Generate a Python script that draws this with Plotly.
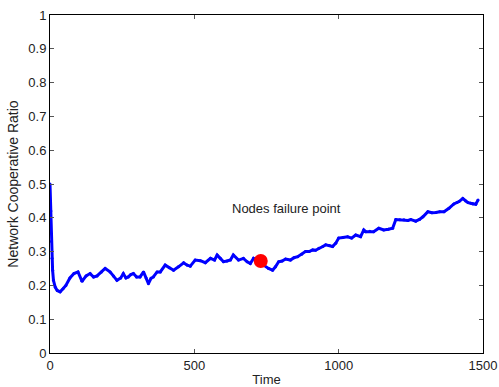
import plotly.graph_objects as go

time = [0, 3, 5, 7, 9, 12, 18, 25, 35, 45, 55, 69, 83, 97, 111, 125, 139, 151, 163, 178,
        191, 208, 220, 232, 245, 254, 263, 271, 280, 289, 300, 312, 324, 333, 341, 350, 358,
        371, 382, 399, 413, 428, 445, 463, 475, 486, 503, 521, 538, 556, 570, 579, 590, 601,
        613, 625, 635, 653, 670, 683, 694, 705, 715, 725, 740, 757, 771, 781, 792, 804, 816,
        833, 845, 858, 872, 885, 898, 910, 920, 931, 945, 955, 968, 979, 990, 1000, 1015,
        1031, 1045, 1059, 1076, 1087, 1094, 1108, 1121, 1139, 1156, 1172, 1187, 1198, 1212,
        1226, 1240, 1250, 1267, 1280, 1292, 1309, 1323, 1337, 1350, 1365, 1382, 1399, 1410,
        1417, 1430, 1440, 1448, 1458, 1465, 1475, 1483]
ratio = [0.50, 0.42, 0.33, 0.28, 0.245, 0.215, 0.195, 0.185, 0.181, 0.19, 0.20, 0.222, 0.235,
         0.24, 0.212, 0.228, 0.235, 0.225, 0.228, 0.24, 0.25, 0.24, 0.228, 0.215, 0.222, 0.235,
         0.222, 0.225, 0.232, 0.235, 0.225, 0.225, 0.24, 0.222, 0.205, 0.221, 0.225, 0.24, 0.24,
         0.26, 0.252, 0.245, 0.255, 0.267, 0.26, 0.257, 0.275, 0.273, 0.267, 0.28, 0.275, 0.29,
         0.28, 0.27, 0.272, 0.275, 0.29, 0.275, 0.28, 0.27, 0.265, 0.28, 0.275, 0.27, 0.26, 0.25,
         0.245, 0.255, 0.27, 0.272, 0.278, 0.275, 0.282, 0.285, 0.292, 0.30, 0.30, 0.305, 0.304,
         0.31, 0.315, 0.32, 0.318, 0.315, 0.325, 0.34, 0.342, 0.344, 0.34, 0.349, 0.344, 0.364,
         0.359, 0.36, 0.359, 0.369, 0.364, 0.366, 0.369, 0.395, 0.394, 0.394, 0.392, 0.395, 0.39,
         0.395, 0.403, 0.418, 0.415, 0.416, 0.418, 0.418, 0.428, 0.441, 0.445, 0.448, 0.457,
         0.45, 0.445, 0.443, 0.441, 0.44, 0.453]

failure_time = [730]
failure_ratio = [0.272]
annotation_text = "Nodes failure point"
annotation_pos = (818, 0.429)

x_ticks = [0, 500, 1000, 1500]
y_ticks = [0, 0.1, 0.2, 0.3, 0.4, 0.5, 0.6, 0.7, 0.8, 0.9, 1]
y_tick_labels = ["0", "0.1", "0.2", "0.3", "0.4", "0.5", "0.6", "0.7", "0.8", "0.9", "1"]

FONT = "Liberation Sans, Arial, Helvetica"

fig = go.Figure()
fig.add_trace(go.Scatter(x=time, y=ratio, mode="lines+markers",
                         line=dict(color="#0000ff", width=3),
                         marker=dict(color="#0000ff", size=3),
                         showlegend=False, hoverinfo="skip"))
fig.add_trace(go.Scatter(x=failure_time, y=failure_ratio, mode="markers",
                         marker=dict(color="#ff0000", size=14),
                         showlegend=False, hoverinfo="skip"))
fig.add_annotation(x=annotation_pos[0], y=annotation_pos[1], text=annotation_text,
                   showarrow=False, font=dict(family=FONT, size=13, color="#222222"))

axis_common = dict(showgrid=False, zeroline=False, showline=True, linecolor="black",
                   linewidth=1, mirror="ticks", ticks="inside", ticklen=4, automargin=False,
                   tickcolor="#555555", tickfont=dict(family=FONT, size=13, color="#222222"))
fig.update_xaxes(range=[0, 1500], tickvals=x_ticks, title=dict(text="Time", standoff=4,
                 font=dict(family=FONT, size=13, color="#222222")), **axis_common)
fig.update_yaxes(range=[0, 1], tickvals=y_ticks, ticktext=y_tick_labels,
                 title=dict(text="Network Cooperative Ratio", standoff=6,
                            font=dict(family=FONT, size=14, color="#222222")),
                 **axis_common)
fig.update_layout(width=499, height=387, margin=dict(l=50, r=16, t=15, b=34),
                  plot_bgcolor="white", paper_bgcolor="white")
fig.write_html("out.html", config={"displayModeBar": False},
               post_script="document.body.style.margin='0';document.body.style.overflow='hidden';")
